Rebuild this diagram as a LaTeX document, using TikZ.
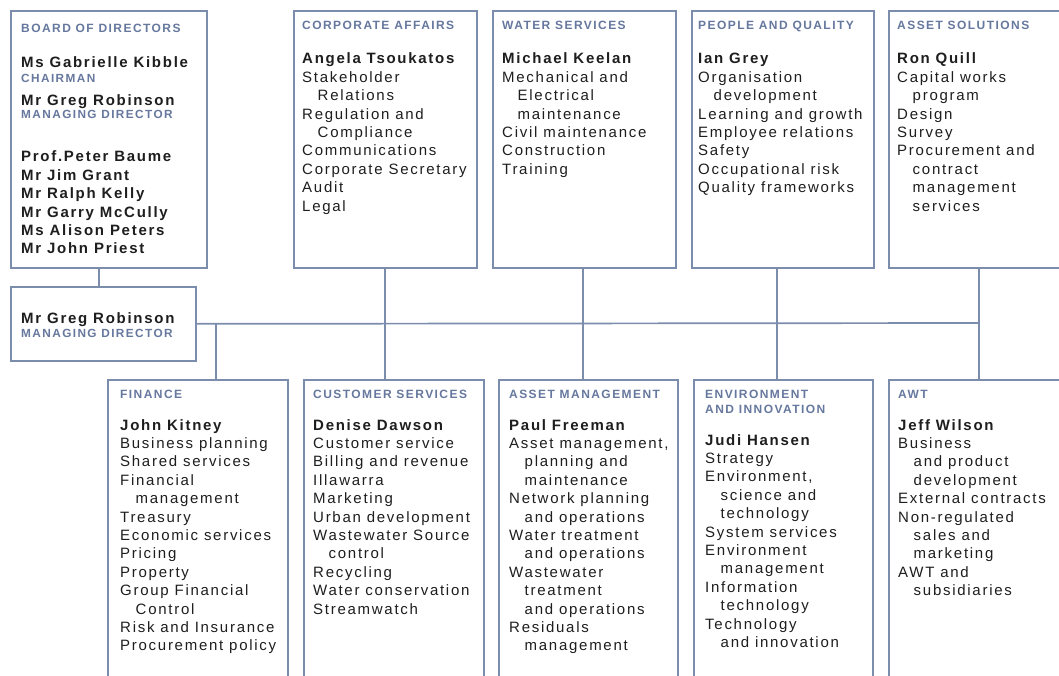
\documentclass[tikz,border=0pt]{standalone}
\usepackage{fontspec}
\setmainfont{Liberation Sans}
\newfontfamily\bodyfam[LetterSpace=11.5]{Liberation Sans}
\newfontfamily\titlefam[LetterSpace=12]{Liberation Sans}
\definecolor{linec}{HTML}{7B8CAD}
\definecolor{titlec}{HTML}{66789E}
\definecolor{bodyc}{HTML}{1E1E1E}
\newcommand\ind{\hspace*{15.5pt}}
\newcommand\lines[1]{\begin{tabular}[t]{@{}l@{}}#1\end{tabular}}
\tikzset{
 box/.style={draw=linec, line width=1.7pt, anchor=north west, inner sep=0pt},
 conn/.style={draw=linec, line width=1.7pt},
 ttl/.style={anchor=base west, inner sep=0pt, font=\titlefam\bfseries\fontsize{12}{15}\selectfont, text=titlec},
 sub/.style={anchor=base west, inner sep=0pt, font=\titlefam\bfseries\fontsize{11.8}{14}\selectfont, text=titlec},
 txt/.style={anchor=base west, inner sep=0pt, font=\bodyfam\fontsize{15}{18.4}\selectfont, text=bodyc},
 nm/.style={anchor=base west, inner sep=0pt, font=\bodyfam\bfseries\fontsize{15}{18.4}\selectfont, text=bodyc},
}
\begin{document}
\begin{tikzpicture}[x=1pt,y=-1pt]
\clip (0,0) rectangle (1059,676);
\fill[white] (0,0) rectangle (1059,676);
% boxes
\node[box, minimum width=196pt, minimum height=257pt] (board) at (10,10) {};
\node[box, minimum width=185pt, minimum height=74pt] (md) at (10,286) {};
\node[box, minimum width=183pt, minimum height=257pt] (ca) at (293,10) {};
\node[box, minimum width=183pt, minimum height=257pt] (ws) at (492,10) {};
\node[box, minimum width=182pt, minimum height=257pt] (pq) at (691,10) {};
\node[box, minimum width=200pt, minimum height=257pt] (as) at (888,10) {};
\node[box, minimum width=180pt, minimum height=320pt] (fin) at (107,379) {};
\node[box, minimum width=180pt, minimum height=320pt] (cs) at (303,379) {};
\node[box, minimum width=179pt, minimum height=320pt] (am) at (498,379) {};
\node[box, minimum width=179pt, minimum height=320pt] (env) at (693,379) {};
\node[box, minimum width=200pt, minimum height=320pt] (awt) at (888,379) {};
\coordinate (busend) at (979,323);
% connectors
\draw[conn] ([xshift=89pt]board.south west) -- ([xshift=89pt]md.north west);
\draw[conn] (md.east) -- (busend);
\draw[conn] ([xshift=109pt]fin.north west) -- ([xshift=109pt]fin.north west |- md.east);
\draw[conn] ([xshift=92pt]ca.south west) -- ([xshift=82pt]cs.north west);
\draw[conn] ([xshift=91pt]ws.south west) -- ([xshift=85pt]am.north west);
\draw[conn] ([xshift=86pt]pq.south west) -- ([xshift=84pt]env.north west);
\draw[conn] ([xshift=91pt]as.south west) -- ([xshift=91pt]awt.north west);
% board
\node[ttl] (board-t) at (21,33) {BOARD OF DIRECTORS};
\node[nm] (board-n1) at (21,68) {Ms Gabrielle Kibble};
\node[sub] (board-s1) at (21,83) {CHAIRMAN};
\node[nm] (board-n2) at (21,106) {Mr Greg Robinson};
\node[sub] (board-s2) at (21,119) {MANAGING DIRECTOR};
\node[nm] (board-l) at (21,162) {\lines{Prof.Peter Baume\\Mr Jim Grant\\Mr Ralph Kelly\\Mr Garry McCully\\Ms Alison Peters\\Mr John Priest}};
% md
\node[nm] (md-n) at (21,323) {Mr Greg Robinson};
\node[sub] (md-s) at (21,337) {MANAGING DIRECTOR};
% top row
\node[ttl] (ca-t) at (302,30) {CORPORATE AFFAIRS};
\node[txt] (ca-b) at (302,64) {\lines{\textbf{Angela Tsoukatos}\\Stakeholder\\\ind Relations\\Regulation and\\\ind Compliance\\Communications\\Corporate Secretary\\Audit\\Legal}};
\node[ttl] (ws-t) at (502,30) {WATER SERVICES};
\node[txt] (ws-b) at (502,64) {\lines{\textbf{Michael Keelan}\\Mechanical and\\\ind Electrical\\\ind maintenance\\Civil maintenance\\Construction\\Training}};
\node[ttl] (pq-t) at (698,30) {PEOPLE AND QUALITY};
\node[txt] (pq-b) at (698,64) {\lines{\textbf{Ian Grey}\\Organisation\\\ind development\\Learning and growth\\Employee relations\\Safety\\Occupational risk\\Quality frameworks}};
\node[ttl] (as-t) at (897,30) {ASSET SOLUTIONS};
\node[txt] (as-b) at (897,64) {\lines{\textbf{Ron Quill}\\Capital works\\\ind program\\Design\\Survey\\Procurement and\\\ind contract\\\ind management\\\ind services}};
% bottom row
\node[ttl] (fin-t) at (120,398) {FINANCE};
\node[txt] (fin-b) at (120,430) {\lines{\textbf{John Kitney}\\Business planning\\Shared services\\Financial\\\ind management\\Treasury\\Economic services\\Pricing\\Property\\Group Financial\\\ind Control\\Risk and Insurance\\Procurement policy}};
\node[ttl] (cs-t) at (313,398) {CUSTOMER SERVICES};
\node[txt] (cs-b) at (313,430) {\lines{\textbf{Denise Dawson}\\Customer service\\Billing and revenue\\Illawarra\\Marketing\\Urban development\\Wastewater Source\\\ind control\\Recycling\\Water conservation\\Streamwatch}};
\node[ttl] (am-t) at (509,398) {ASSET MANAGEMENT};
\node[txt] (am-b) at (509,430) {\lines{\textbf{Paul Freeman}\\Asset management,\\\ind planning and\\\ind maintenance\\Network planning\\\ind and operations\\Water treatment\\\ind and operations\\Wastewater\\\ind treatment\\\ind and operations\\Residuals\\\ind management}};
\node[ttl] (env-t) at (705,398) {\lines{ENVIRONMENT\\[0pt]AND INNOVATION}};
\node[txt] (env-b) at (705,445) {\lines{\textbf{Judi Hansen}\\Strategy\\Environment,\\\ind science and\\\ind technology\\System services\\Environment\\\ind management\\Information\\\ind technology\\Technology\\\ind and innovation}};
\node[ttl] (awt-t) at (898,398) {AWT};
\node[txt] (awt-b) at (898,430) {\lines{\textbf{Jeff Wilson}\\Business\\\ind and product\\\ind development\\External contracts\\Non-regulated\\\ind sales and\\\ind marketing\\AWT and\\\ind subsidiaries}};
\end{tikzpicture}
\end{document}
